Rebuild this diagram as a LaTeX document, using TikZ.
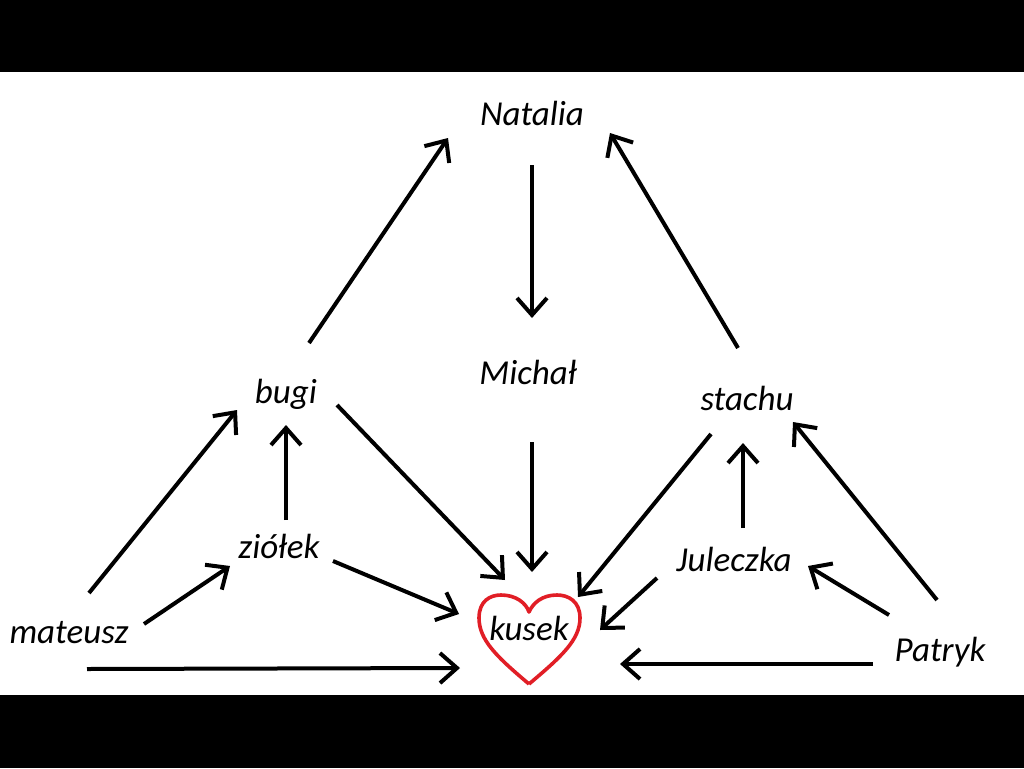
\documentclass[tikz,border=0pt]{standalone}
\usepackage{fontspec}
\setmainfont{Carlito}
\usetikzlibrary{arrows.meta}
\definecolor{heartred}{RGB}{225,30,38}
\begin{document}
\begin{tikzpicture}[x=1pt,y=-1pt,
  lbl/.style={font=\fontsize{35}{40}\selectfont\itshape, inner sep=0pt},
  arr/.style={line width=4pt, -{Straight Barb[length=17pt,width=30pt,line width=4pt]}}]
\useasboundingbox (0,0) rectangle (1024,768);
\fill[white] (0,0) rectangle (1024,768);
\fill[black] (0,0) rectangle (1024,72);
\fill[black] (0,695) rectangle (1024,768);
% labels
\node[lbl] (natalia) at (532,113) {Natalia};
\node[lbl] (michal) at (528,372) {Michał};
\node[lbl] (bugi) at (286,394) {bugi};
\node[lbl] (stachu) at (747,398) {stachu};
\node[lbl] (ziolek) at (279,546) {ziółek};
\node[lbl] (juleczka) at (734,559) {Juleczka};
\node[lbl] (mateusz) at (69,633) {mateusz};
\node[lbl] (patryk) at (940,652) {Patryk};
\node[lbl] (kusek) at (529,628) {kusek};
% heart
\draw[heartred, line width=3.6pt, line join=round] (529,684)
  .. controls (497,657) and (479,640) .. (479,618)
  .. controls (479,601) and (490,595) .. (501,595)
  .. controls (516,595) and (526,603) .. (529,612)
  .. controls (533,603) and (542,595) .. (557,595)
  .. controls (568,595) and (580,601) .. (580,618)
  .. controls (580,640) and (561,657) .. (529,684);
% arrow endpoints
\coordinate (a1s) at (309,343); \coordinate (a1e) at (448,138);
\coordinate (a2s) at (532,165); \coordinate (a2e) at (532,318);
\coordinate (a3s) at (738,348); \coordinate (a3e) at (610,133);
\coordinate (a4s) at (532,442); \coordinate (a4e) at (532,572);
\coordinate (a5s) at (337,405); \coordinate (a5e) at (505,580);
\coordinate (a6s) at (711,434); \coordinate (a6e) at (578,597);
\coordinate (a7s) at (89,593);  \coordinate (a7e) at (237,410);
\coordinate (a8s) at (286,520); \coordinate (a8e) at (286,425);
\coordinate (a9s) at (144,624); \coordinate (a9e) at (230,566);
\coordinate (a10s) at (333,561); \coordinate (a10e) at (459,614);
\coordinate (a11s) at (87,669); \coordinate (a11e) at (460,668);
\coordinate (a12s) at (657,578); \coordinate (a12e) at (600,630);
\coordinate (a13s) at (743,528); \coordinate (a13e) at (743,443);
\coordinate (a14s) at (889,615); \coordinate (a14e) at (808,566);
\coordinate (a15s) at (937,600); \coordinate (a15e) at (793,422);
\coordinate (a16s) at (873,664); \coordinate (a16e) at (620,664);
\foreach \i in {1,...,16} {\draw[arr] (a\i s) -- (a\i e);}
\end{tikzpicture}
\end{document}
